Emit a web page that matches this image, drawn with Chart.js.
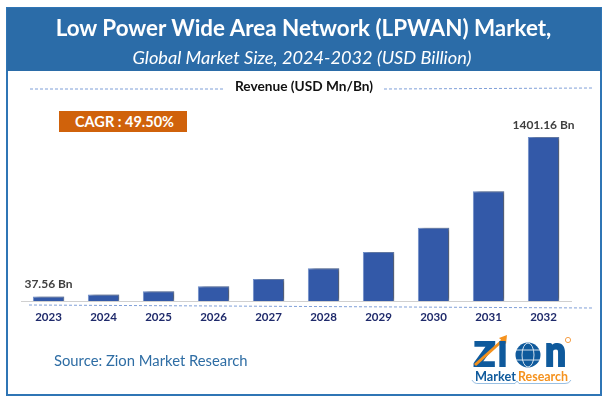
<!DOCTYPE html>
<html>
<head>
<meta charset="utf-8">
<script src="https://cdn.jsdelivr.net/npm/chart.js"></script>
<style>
  html, body { margin: 0; padding: 0; background: #fff; }
  body { width: 608px; height: 403px; position: relative; overflow: hidden; font-family: Lato, sans-serif; }
  canvas { position: absolute; left: 0; top: 0; }
  .frame { position: absolute; left: 6px; top: 7px; width: 592px; height: 385px; border: 2px solid #2f75b5; }
  .head { position: absolute; left: 7px; top: 8px; width: 594px; height: 63px; background: #2b6ca8; color: #fff; text-align: center; }
  .head .t { position: absolute; left: -1px; right: 0; top: 7px; font-size: 22.4px; font-weight: 700; line-height: 26px; }
  .head .s { position: absolute; left: -4px; right: 0; top: 38px; font-size: 18.2px; font-style: italic; line-height: 22px; }
  .rev { position: absolute; left: 204px; top: 78px; width: 200px; text-align: center; font-size: 13.7px; font-weight: 700; color: #111; line-height: 16px; white-space: nowrap; }
  .cagr { position: absolute; left: 59px; top: 111px; width: 125px; padding-left: 3px; height: 21px; background: #d0620b; color: #fff; text-align: center; font-size: 14.5px; font-weight: 700; line-height: 21px; }
  .src { position: absolute; left: 54px; top: 351px; font-size: 14.8px; color: #2e6da4; line-height: 18px; }
  svg.logo { position: absolute; left: 465px; top: 330px; }
  svg.logo text { font-family: Lato, sans-serif; }
  svg.logo .big { stroke: #0f5a9c; stroke-width: 2; fill: #0f5a9c; font-weight: 900; }
</style>
</head>
<body>
<canvas id="chart" width="608" height="403"></canvas>
<div class="frame"></div>
<div class="head">
  <div class="t">Low Power Wide Area Network (LPWAN) Market,</div>
  <div class="s">Global Market Size, 2024-2032 (USD Billion)</div>
</div>
<div class="rev">Revenue (USD Mn/Bn)</div>
<div class="cagr">CAGR : 49.50%</div>
<div class="src">Source: Zion Market Research</div>
<svg class="logo" width="115" height="60" viewBox="0 0 115 60">
  <text class="big" x="9" y="36" font-size="32" textLength="21" lengthAdjust="spacingAndGlyphs">Z</text>
  <path d="M10 35 L38 10" stroke="#f5921e" stroke-width="3" fill="none"/>
  <path d="M42 5 L41 14 L34 8 Z" fill="#f5921e"/>
  <text class="big" x="33" y="36" font-size="32" textLength="9" lengthAdjust="spacingAndGlyphs">I</text>
  <circle cx="63" cy="25" r="12.5" fill="#0f5a9c"/>
  <ellipse cx="63" cy="25" rx="6" ry="12" fill="none" stroke="#fff" stroke-width="0.8"/>
  <path d="M51 20 H75 M51 30 H75" stroke="#fff" stroke-width="0.8"/>
  <text class="big" x="80" y="36" font-size="41" textLength="21" lengthAdjust="spacingAndGlyphs">n</text>
  <circle cx="103" cy="10" r="2.6" fill="none" stroke="#f5a04a" stroke-width="1"/>
  <text x="10" y="51" font-weight="700" font-size="12.5" fill="#0f5a9c" textLength="41" lengthAdjust="spacingAndGlyphs">Market</text>
  <text x="53" y="51" font-weight="700" font-size="12.5" fill="#f5921e" textLength="50" lengthAdjust="spacingAndGlyphs">Research</text>
  <path d="M7 50 Q9 54 14 53.5 H50 L52 51 L54 53.5 H100 Q104 54 106 50" stroke="#7fb0dc" stroke-width="0.8" fill="none"/>
</svg>
<script>
const categories = ['2023', '2024', '2025', '2026', '2027', '2028', '2029', '2030', '2031', '2032'];
const revenue = [37.56, 56, 84, 125, 187, 280, 419, 626, 937, 1401.16];
const barLabels = ['37.56 Bn', '', '', '', '', '', '', '', '', '1401.16 Bn'];
const axisMax = 1717;

// soft shadow to the right of each bar
const barShadow = {
    id: 'barShadow',
    beforeDatasetDraw(chart) {
        const ctx = chart.ctx;
        ctx.save();
        ctx.shadowColor = 'rgba(70,70,70,0.75)';
        ctx.shadowBlur = 4;
        ctx.shadowOffsetX = 4;
        ctx.shadowOffsetY = 0;
    },
    afterDatasetDraw(chart) {
        chart.ctx.restore();
    }
};

// first and last bar carry a value label, dashed rules sit around the plot
const extras = {
    id: 'extras',
    afterDraw(chart) {
        const ctx = chart.ctx;
        const meta = chart.getDatasetMeta(0);
        ctx.save();
        ctx.fillStyle = '#404040';
        ctx.font = '700 12px Lato, sans-serif';
        ctx.textAlign = 'center';
        ctx.textBaseline = 'bottom';
        barLabels.forEach((label, i) => {
            if (label) ctx.fillText(label, meta.data[i].x, meta.data[i].y - 6);
        });
        ctx.strokeStyle = '#7f9fd8';
        ctx.lineWidth = 1;
        ctx.setLineDash([3, 2]);
        [[30, 89, 224, 89], [384, 89, 592, 88], [29, 305, 592, 308]].forEach(r => {
            ctx.beginPath();
            ctx.moveTo(r[0], r[1]);
            ctx.lineTo(r[2], r[3]);
            ctx.stroke();
        });
        ctx.restore();
    }
};

new Chart(document.getElementById('chart').getContext('2d'), {
    type: 'bar',
    data: {
        labels: categories,
        datasets: [{
            data: revenue,
            backgroundColor: '#3359a8',
            borderColor: '#6f8fcb',
            borderWidth: 1,
            barPercentage: 0.57,
            categoryPercentage: 1
        }]
    },
    options: {
        responsive: false,
        animation: false,
        layout: { padding: { top: 100, left: 21, right: 37, bottom: 0 } },
        plugins: { legend: { display: false }, title: { display: false }, tooltip: { enabled: false } },
        scales: {
            x: {
                afterFit(scale) { scale.height = 102; },
                grid: { display: false, drawTicks: false },
                border: { color: '#d0d0d0', width: 1 },
                ticks: {
                    color: '#1f2a6b',
                    padding: 9,
                    maxRotation: 0,
                    font: { family: 'Lato, sans-serif', size: 11.5, weight: '700' }
                }
            },
            y: {
                display: false,
                min: 0,
                max: axisMax
            }
        }
    },
    plugins: [barShadow, extras]
});
</script>
</body>
</html>
